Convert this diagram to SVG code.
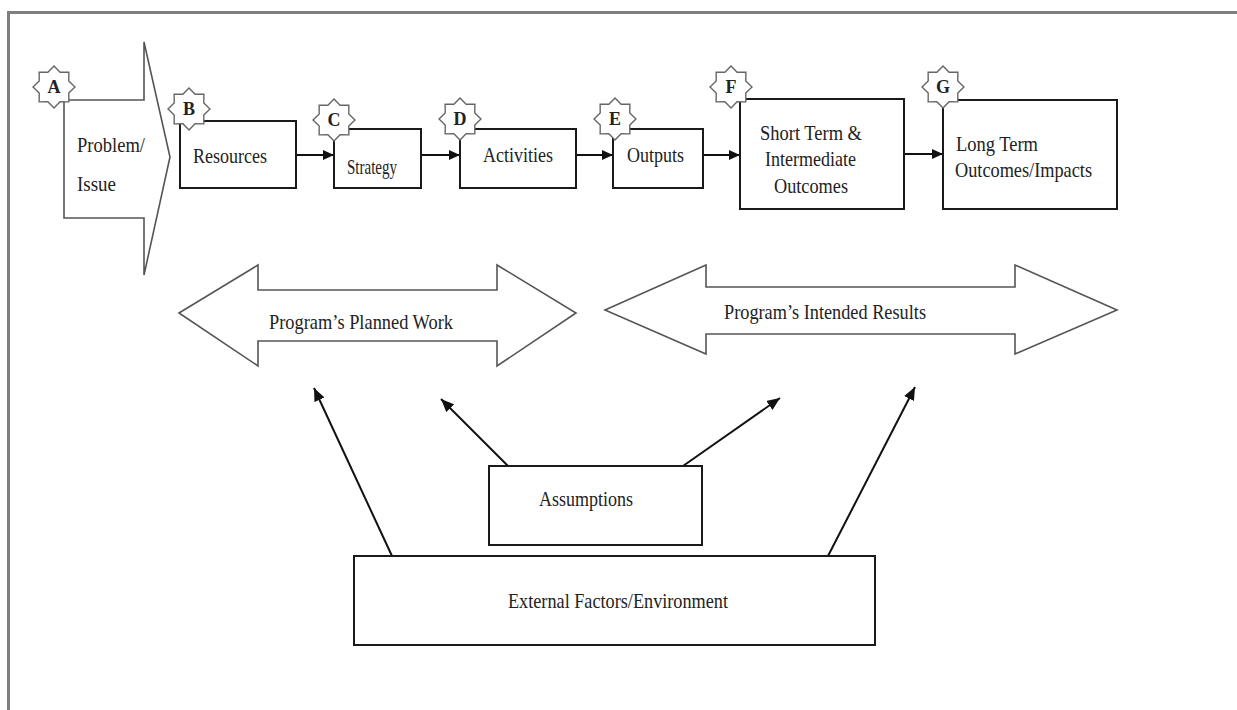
<svg xmlns="http://www.w3.org/2000/svg" width="1237" height="710" viewBox="0 0 1237 710">
<style>
  .box { fill: #fff; stroke: #1a1a1a; stroke-width: 2; }
  .shape { fill: #fff; stroke: #555; stroke-width: 1.6; stroke-linejoin: miter; }
  .star { fill: #fff; stroke: #666; stroke-width: 1.4; }
  .t { font-family: "Liberation Serif", "Times New Roman", serif; font-size: 21px; fill: #222; }
  .lbl { font-family: "Liberation Serif", "Times New Roman", serif; font-size: 18px; font-weight: bold; fill: #222; text-anchor: middle; }
  .conn { stroke: #111; stroke-width: 2; fill: none; }
</style>
<defs>
  <polygon id="star" points="0,-21 6.12,-14.78 14.85,-14.85 14.78,-6.12 21,0 14.78,6.12 14.85,14.85 6.12,14.78 0,21 -6.12,14.78 -14.85,14.85 -14.78,6.12 -21,0 -14.78,-6.12 -14.85,-14.85 -6.12,-14.78"/>
  <marker id="ah" markerUnits="userSpaceOnUse" markerWidth="11" markerHeight="10" refX="11" refY="5" orient="auto">
    <path d="M0,0 L11,5 L0,10 z" fill="#111"/>
  </marker>
  <marker id="ahb" markerUnits="userSpaceOnUse" markerWidth="13" markerHeight="11" refX="13" refY="5.5" orient="auto">
    <path d="M0,0 L13,5.5 L0,11 z" fill="#111"/>
  </marker>
</defs>
<rect x="0" y="0" width="1237" height="710" fill="#fff"/>
<path d="M8.5,710 V12.5 H1237" fill="none" stroke="#7f7f7f" stroke-width="3"/>

<g id="connectors">
  <line class="conn" x1="296" y1="155" x2="334" y2="155" marker-end="url(#ah)"/>
  <line class="conn" x1="421" y1="155" x2="460" y2="155" marker-end="url(#ah)"/>
  <line class="conn" x1="576" y1="155" x2="613" y2="155" marker-end="url(#ah)"/>
  <line class="conn" x1="703" y1="155" x2="740" y2="155" marker-end="url(#ah)"/>
  <line class="conn" x1="904" y1="154" x2="943" y2="154" marker-end="url(#ah)"/>
  <line class="conn" x1="392" y1="556" x2="314" y2="388" marker-end="url(#ahb)"/>
  <line class="conn" x1="508" y1="466" x2="441" y2="399" marker-end="url(#ahb)"/>
  <line class="conn" x1="683" y1="466" x2="780" y2="398" marker-end="url(#ahb)"/>
  <line class="conn" x1="828" y1="556" x2="915" y2="387" marker-end="url(#ahb)"/>
</g>

<g id="node-problem">
  <polygon class="shape" points="64,100 144,100 144,42 170,157 144,275 144,218 64,218"/>
  <text class="t" x="77" y="152" textLength="68" lengthAdjust="spacingAndGlyphs">Problem/</text>
  <text class="t" x="77" y="191" textLength="39" lengthAdjust="spacingAndGlyphs">Issue</text>
  <use href="#star" class="star" x="54" y="87"/>
  <text class="lbl" x="54" y="93">A</text>
</g>

<g id="node-resources">
  <rect class="box" x="180" y="121" width="116" height="67"/>
  <text class="t" x="193" y="163" textLength="74" lengthAdjust="spacingAndGlyphs">Resources</text>
  <use href="#star" class="star" x="189" y="109"/>
  <text class="lbl" x="189" y="115">B</text>
</g>

<g id="node-strategy">
  <rect class="box" x="334" y="129" width="87" height="59"/>
  <text class="t" x="347" y="174" textLength="50" lengthAdjust="spacingAndGlyphs">Strategy</text>
  <use href="#star" class="star" x="334" y="120"/>
  <text class="lbl" x="334" y="126">C</text>
</g>

<g id="node-activities">
  <rect class="box" x="460" y="129" width="116" height="59"/>
  <text class="t" x="483" y="162" textLength="70" lengthAdjust="spacingAndGlyphs">Activities</text>
  <use href="#star" class="star" x="460" y="119"/>
  <text class="lbl" x="460" y="125">D</text>
</g>

<g id="node-outputs">
  <rect class="box" x="613" y="129" width="90" height="59"/>
  <text class="t" x="627" y="162" textLength="57" lengthAdjust="spacingAndGlyphs">Outputs</text>
  <use href="#star" class="star" x="615" y="119"/>
  <text class="lbl" x="615" y="125">E</text>
</g>

<g id="node-short-term">
  <rect class="box" x="740" y="99" width="164" height="110"/>
  <text class="t" x="760" y="140" textLength="102" lengthAdjust="spacingAndGlyphs">Short Term &amp;</text>
  <text class="t" x="765" y="166" textLength="91" lengthAdjust="spacingAndGlyphs">Intermediate</text>
  <text class="t" x="774" y="193" textLength="74" lengthAdjust="spacingAndGlyphs">Outcomes</text>
  <use href="#star" class="star" x="731" y="87"/>
  <text class="lbl" x="731" y="93">F</text>
</g>

<g id="node-long-term">
  <rect class="box" x="943" y="100" width="174" height="109"/>
  <text class="t" x="956" y="151" textLength="82" lengthAdjust="spacingAndGlyphs">Long Term</text>
  <text class="t" x="955" y="177" textLength="137" lengthAdjust="spacingAndGlyphs">Outcomes/Impacts</text>
  <use href="#star" class="star" x="943" y="87"/>
  <text class="lbl" x="943" y="93">G</text>
</g>

<g id="node-planned-work">
  <polygon class="shape" points="179,313 258,265 258,290 497,290 497,265 576,313 497,366 497,341 258,341 258,366"/>
  <text class="t" x="269" y="329" textLength="184" lengthAdjust="spacingAndGlyphs">Program’s Planned Work</text>
</g>

<g id="node-intended-results">
  <polygon class="shape" points="605,310 706,265 706,287 1015,287 1015,265 1117,310 1015,354 1015,334 706,334 706,354"/>
  <text class="t" x="724" y="319" textLength="202" lengthAdjust="spacingAndGlyphs">Program’s Intended Results</text>
</g>

<g id="node-assumptions">
  <rect class="box" x="489" y="466" width="213" height="79"/>
  <text class="t" x="539" y="506" textLength="94" lengthAdjust="spacingAndGlyphs">Assumptions</text>
</g>

<g id="node-external">
  <rect class="box" x="354" y="556" width="521" height="89"/>
  <text class="t" x="508" y="608" textLength="220" lengthAdjust="spacingAndGlyphs">External Factors/Environment</text>
</g>
</svg>
